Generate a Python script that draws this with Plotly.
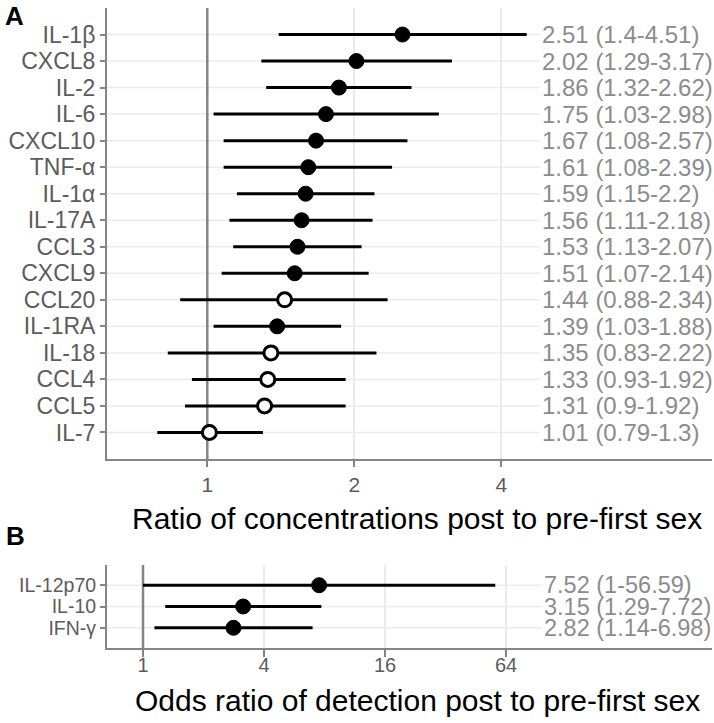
import numpy as np
import plotly.graph_objects as go

# ---------------- data ----------------
cyto_a = ["IL-1β", "CXCL8", "IL-2", "IL-6", "CXCL10", "TNF-α", "IL-1α", "IL-17A",
          "CCL3", "CXCL9", "CCL20", "IL-1RA", "IL-18", "CCL4", "CCL5", "IL-7"]
ratio_a = [2.51, 2.02, 1.86, 1.75, 1.67, 1.61, 1.59, 1.56, 1.53, 1.51, 1.44, 1.39, 1.35, 1.33, 1.31, 1.01]
lo_a = [1.4, 1.29, 1.32, 1.03, 1.08, 1.08, 1.15, 1.11, 1.13, 1.07, 0.88, 1.03, 0.83, 0.93, 0.9, 0.79]
hi_a = [4.51, 3.17, 2.62, 2.98, 2.57, 2.39, 2.2, 2.18, 2.07, 2.14, 2.34, 1.88, 2.22, 1.92, 1.92, 1.3]
ticks_a = [1, 2, 4]

cyto_b = ["IL-12p70", "IL-10", "IFN-γ"]
or_b = [7.52, 3.15, 2.82]
lo_b = [1, 1.29, 1.14]
hi_b = [56.59, 7.72, 6.98]
ticks_b = [1, 4, 16, 64]

title_a = "Ratio of concentrations post to pre-first sex"
title_b = "Odds ratio of detection post to pre-first sex"

# ---------------- layout constants ----------------
W, H = 714, 723
FONT = "Liberation Sans, Arial, sans-serif"
AXC = "#858585"
GRID = "#ebebeb"
LBL = "#5c5c5c"
VAL = "#8c8c8c"

xdom = [107 / W, 712 / W]
ydom_a = [1 - 459 / H, 1 - 8 / H]
ydom_b = [1 - 648 / H, 1 - 565 / H]

xr_a = [-0.2054, 1.0336]     # log10 units
xr_b = [-0.1791, 2.831]
text_x_a = 4.8
text_x_b = 97.0

fig = go.Figure()


def fmt(v):
    return f"{v:g}"


def panel(names, est, lo, hi, xref, yref, xr, text_x, val_size):
    n = len(names)
    ys = list(range(n - 1, -1, -1))
    xmin = 10 ** xr[0]
    # horizontal grid lines ending at the text column
    gx, gy = [], []
    for y in ys:
        gx += [xmin, text_x, None]
        gy += [y, y, None]
    fig.add_trace(go.Scatter(x=gx, y=gy, mode="lines", line=dict(color=GRID, width=1.5),
                             xaxis=xref, yaxis=yref, hoverinfo="skip", showlegend=False))
    # reference line at 1
    fig.add_trace(go.Scatter(x=[1, 1], y=[-5, n + 5], mode="lines", line=dict(color=AXC, width=2.5),
                             xaxis=xref, yaxis=yref, hoverinfo="skip", showlegend=False))
    # CI lines
    ex, ey = [], []
    for y, a, b in zip(ys, lo, hi):
        ex += [a, b, None]
        ey += [y, y, None]
    fig.add_trace(go.Scatter(x=ex, y=ey, mode="lines", line=dict(color="black", width=3),
                             xaxis=xref, yaxis=yref, hoverinfo="skip", showlegend=False))
    filled = [(e, y) for e, y, l in zip(est, ys, lo) if l >= 1]
    opened = [(e, y) for e, y, l in zip(est, ys, lo) if l < 1]
    if filled:
        fig.add_trace(go.Scatter(x=[f[0] for f in filled], y=[f[1] for f in filled], mode="markers",
                                 marker=dict(size=15, color="black", line=dict(color="black", width=1)),
                                 xaxis=xref, yaxis=yref, showlegend=False))
    if opened:
        fig.add_trace(go.Scatter(x=[f[0] for f in opened], y=[f[1] for f in opened], mode="markers",
                                 marker=dict(size=14, color="white", line=dict(color="black", width=3)),
                                 xaxis=xref, yaxis=yref, showlegend=False))
    for y, e, a, b in zip(ys, est, lo, hi):
        fig.add_annotation(x=np.log10(text_x), y=y, xref=xref, yref=yref,
                           text=f"{fmt(e)} ({fmt(a)}-{fmt(b)})", showarrow=False,
                           xanchor="left", yanchor="middle",
                           font=dict(family=FONT, size=val_size, color=VAL))
    return ys


ys_a = panel(cyto_a, ratio_a, lo_a, hi_a, "x", "y", xr_a, text_x_a, 24)
ys_b = panel(cyto_b, or_b, lo_b, hi_b, "x2", "y2", xr_b, text_x_b, 23.5)

common_x = dict(type="log", showline=True, linecolor=AXC, linewidth=2, ticks="outside",
                tickwidth=2, tickcolor=AXC, showgrid=True, gridcolor=GRID,
                gridwidth=1.5, zeroline=False, domain=xdom)
common_y = dict(showline=True, linecolor=AXC, linewidth=2, ticks="outside", ticklen=5,
                tickwidth=2, tickcolor=AXC, showgrid=False, zeroline=False)

fig.update_layout(
    width=W, height=H,
    margin=dict(l=0, r=0, t=0, b=0),
    paper_bgcolor="white", plot_bgcolor="white",
    font=dict(family=FONT),
    xaxis=dict(**common_x, range=xr_a, tickvals=ticks_a, ticktext=[str(t) for t in ticks_a],
               ticklen=6, tickfont=dict(family=FONT, size=21, color=LBL), anchor="y"),
    yaxis=dict(**common_y, domain=ydom_a, range=[-1, len(cyto_a)], tickvals=ys_a, ticktext=cyto_a,
               tickfont=dict(family=FONT, size=23, color=LBL), anchor="x"),
    xaxis2=dict(**common_x, range=xr_b, tickvals=ticks_b, ticktext=[str(t) for t in ticks_b],
                ticklen=7, ticklabelstandoff=-9,
                tickfont=dict(family=FONT, size=20, color=LBL), anchor="y2"),
    yaxis2=dict(**common_y, domain=ydom_b, range=[-0.95, len(cyto_b) - 0.05], tickvals=ys_b,
                ticktext=cyto_b, tickfont=dict(family=FONT, size=19.5, color=LBL), anchor="x2"),
)

fig.add_annotation(x=417 / W, y=1 - 518 / H, xref="paper", yref="paper", text=title_a,
                   showarrow=False, yanchor="middle",
                   font=dict(family=FONT, size=30, color="black"))
fig.add_annotation(x=417 / W, y=1 - 700 / H, xref="paper", yref="paper", text=title_b,
                   showarrow=False, yanchor="middle",
                   font=dict(family=FONT, size=30, color="black"))
fig.add_annotation(x=3 / W, y=1 - 16 / H, xref="paper", yref="paper", text="<b>A</b>",
                   showarrow=False, xanchor="left", yanchor="middle",
                   font=dict(family=FONT, size=26, color="black"))
fig.add_annotation(x=4 / W, y=1 - 536 / H, xref="paper", yref="paper", text="<b>B</b>",
                   showarrow=False, xanchor="left", yanchor="middle",
                   font=dict(family=FONT, size=26, color="black"))

fig.write_html("out.html", config={"displayModeBar": False},
               post_script="document.body.style.margin='0px';")
